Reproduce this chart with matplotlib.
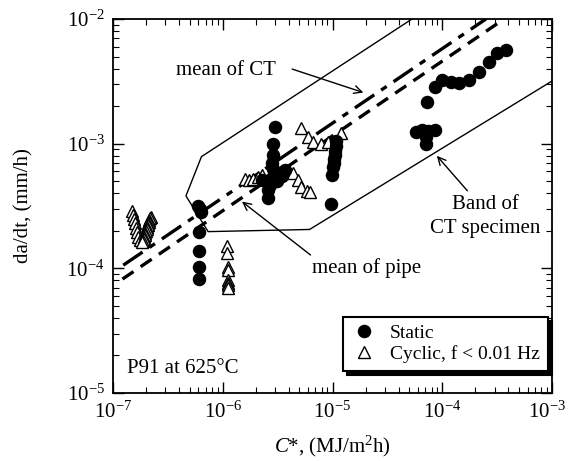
import matplotlib
matplotlib.use("Agg")
import matplotlib.pyplot as plt
import matplotlib.transforms as mtransforms
from matplotlib.ticker import LogLocator, FuncFormatter, NullFormatter
import numpy as np

plt.rcParams['font.family'] = ['Liberation Serif', 'DejaVu Serif']
plt.rcParams['mathtext.fontset'] = 'custom'
plt.rcParams['mathtext.rm'] = 'Liberation Serif'
plt.rcParams['mathtext.it'] = 'Liberation Serif:italic'
plt.rcParams['mathtext.default'] = 'regular'

# ---- data ----
static_x = [6.0e-7, 6.2e-7, 6.3e-7, 6.1e-7, 6.1e-7, 6.1e-7, 6.1e-7,
            3.0e-6, 2.9e-6, 2.85e-6, 2.8e-6, 2.9e-6, 3.3e-6, 3.7e-6, 3.5e-6,
            2.5e-6, 2.3e-6, 2.7e-6, 2.6e-6, 2.6e-6, 2.8e-6, 3.1e-6,
            1.08e-5, 1.07e-5, 1.06e-5, 1.05e-5, 1.04e-5, 1.03e-5, 1.02e-5, 9.9e-6, 9.7e-6,
            5.8e-5, 6.6e-5, 7.4e-5, 8.5e-5, 7.1e-5, 7.1e-5,
            7.3e-5, 8.5e-5, 1.0e-4, 1.2e-4, 1.43e-4, 1.76e-4, 2.17e-4, 2.67e-4, 3.18e-4, 3.8e-4]
static_y = [3.15e-4, 3.0e-4, 2.85e-4, 1.97e-4, 1.39e-4, 1.03e-4, 8.2e-5,
            1.37e-3, 1.0e-3, 8.1e-4, 7.0e-4, 6.3e-4, 5.8e-4, 6.2e-4, 5.5e-4,
            5.0e-4, 5.1e-4, 4.7e-4, 4.25e-4, 3.65e-4, 5.3e-4, 5.0e-4,
            1.05e-3, 9.5e-4, 8.8e-4, 8.1e-4, 7.5e-4, 7.0e-4, 6.5e-4, 5.6e-4, 3.3e-4,
            1.25e-3, 1.29e-3, 1.27e-3, 1.29e-3, 1.14e-3, 1.0e-3,
            2.17e-3, 2.86e-3, 3.24e-3, 3.14e-3, 3.08e-3, 3.24e-3, 3.78e-3, 4.55e-3, 5.31e-3, 5.64e-3]

cyclic_x = [1.50e-7, 1.52e-7, 1.55e-7, 1.58e-7, 1.62e-7, 1.66e-7, 1.70e-7, 1.75e-7,
            2.2e-7, 2.17e-7, 2.15e-7, 2.12e-7, 2.1e-7, 2.07e-7, 2.05e-7, 2.02e-7, 2.0e-7,
            1.97e-7, 1.95e-7, 1.92e-7, 1.9e-7, 1.87e-7, 1.85e-7,
            1.10e-6, 1.10e-6, 1.12e-6, 1.12e-6, 1.12e-6, 1.12e-6, 1.12e-6, 1.12e-6,
            1.6e-6, 1.75e-6, 1.9e-6, 2.1e-6, 2.3e-6,
            4.35e-6, 4.8e-6, 5.2e-6, 5.8e-6, 6.3e-6,
            5.2e-6, 6.0e-6, 6.6e-6, 7.9e-6, 9.1e-6, 1.2e-5]
cyclic_y = [2.9e-4, 2.7e-4, 2.5e-4, 2.3e-4, 2.1e-4, 1.95e-4, 1.8e-4, 1.7e-4,
            2.6e-4, 2.52e-4, 2.45e-4, 2.37e-4, 2.3e-4, 2.22e-4, 2.15e-4, 2.07e-4, 2.0e-4,
            1.92e-4, 1.85e-4, 1.78e-4, 1.72e-4, 1.67e-4, 1.62e-4,
            1.5e-4, 1.32e-4, 1.03e-4, 9.7e-5, 8.1e-5, 7.6e-5, 7.3e-5, 7.0e-5,
            5.2e-4, 5.1e-4, 5.2e-4, 5.4e-4, 5.6e-4,
            5.8e-4, 5.1e-4, 4.5e-4, 4.2e-4, 4.1e-4,
            1.33e-3, 1.14e-3, 1.04e-3, 1.0e-3, 1.04e-3, 1.21e-3]

band_x = [5.3e-5, 6.4e-7, 4.62e-7, 7.36e-7, 6.18e-6, 1.0e-3]
band_y = [1.0e-2, 7.87e-4, 3.81e-4, 1.97e-4, 2.05e-4, 3.18e-3]

mean_ct_x = [1.24e-7, 2.5e-4]
mean_ct_y = [1.06e-4, 1.0e-2]
mean_pipe_x = [1.22e-7, 3.66e-4]
mean_pipe_y = [8.2e-5, 1.0e-2]

# ---- figure ----
fig = plt.figure(figsize=(5.68, 4.61), dpi=100)
ax = fig.add_axes([113/568, 1-393/461, 439/568, 374/461])
ax.set_xscale('log')
ax.set_yscale('log')
ax.set_xlim(1e-7, 1e-3)
ax.set_ylim(1e-5, 1e-2)

ax.plot(band_x, band_y, color='black', lw=1.0)
ax.plot(mean_ct_x, mean_ct_y, color='black', lw=2.4, dashes=(7, 2.5, 2, 2.5))
ax.plot(mean_pipe_x, mean_pipe_y, color='black', lw=2.4, dashes=(4, 2.6))

ax.plot(cyclic_x, cyclic_y, linestyle='none', marker='^', markersize=9,
        markerfacecolor='white', markeredgecolor='black', markeredgewidth=1.0,
        label='Cyclic, f < 0.01 Hz', zorder=3)
ax.plot(static_x, static_y, linestyle='none', marker='o', markersize=8.7,
        markerfacecolor='black', markeredgecolor='black',
        label='Static', zorder=4)

ax.text(0.031, 0.066, 'P91 at 625°C', transform=ax.transAxes, fontsize=15,
        ha='left', va='center')

arrow = dict(arrowstyle='->', color='black', lw=1.0, mutation_scale=14)
ax.text(1.06e-6, 3.85e-3, 'mean of CT', fontsize=15, ha='center', va='center')
ax.annotate('', xy=(2.02e-5, 2.53e-3), xytext=(4.06e-6, 4.03e-3), arrowprops=arrow)
ax.annotate('', xy=(1.43e-6, 3.54e-4), xytext=(6.6e-6, 1.24e-4), arrowprops=arrow)
ax.text(2.04e-5, 1.0e-4, 'mean of pipe', fontsize=15, ha='center', va='center')
ax.annotate('', xy=(8.6e-5, 8.3e-4), xytext=(1.76e-4, 4.03e-4), arrowprops=arrow)
ax.text(2.45e-4, 2.6e-4, 'Band of\nCT specimen', fontsize=15, ha='center',
        va='center', linespacing=1.3)

# axes labels
ax.set_xlabel(r'$\mathit{C}$*, (MJ/m$^{2}$h)', fontsize=15, labelpad=8)
ax.set_ylabel('da/dt, (mm/h)', fontsize=15, labelpad=24)

fmt = FuncFormatter(lambda v, p: r'10$^{%d}$' % int(round(np.log10(v))))
for axis in (ax.xaxis, ax.yaxis):
    axis.set_major_locator(LogLocator(base=10, numticks=10))
    axis.set_minor_locator(LogLocator(base=10, subs=np.arange(2, 10), numticks=10))
    axis.set_major_formatter(fmt)
    axis.set_minor_formatter(NullFormatter())
ax.tick_params(which='both', direction='in', top=True, right=True, labelsize=15)
ax.tick_params(which='major', length=8, width=1.0, pad=6)
ax.tick_params(which='minor', length=4, width=0.8)
for s in ax.spines.values():
    s.set_linewidth(1.3)

h, l = ax.get_legend_handles_labels()
leg = ax.legend(h[::-1], l[::-1], loc='lower right', bbox_to_anchor=(0.99, 0.06),
                borderaxespad=0, fontsize=14, fancybox=False, framealpha=1,
                edgecolor='black', shadow={'color': 'black', 'alpha': 1, 'ox': 3, 'oy': -3},
                handletextpad=0.7, borderpad=0.4, labelspacing=0.15,
                handlelength=1.3)
leg.get_frame().set_linewidth(1.5)

fig.canvas.draw()
for t in ax.xaxis.get_majorticklabels():
    if t.get_text().endswith('{-3}$'):
        t.set_transform(t.get_transform() + mtransforms.ScaledTranslation(-5/100, 0, fig.dpi_scale_trans))

fig.savefig('out.png', dpi=100)
